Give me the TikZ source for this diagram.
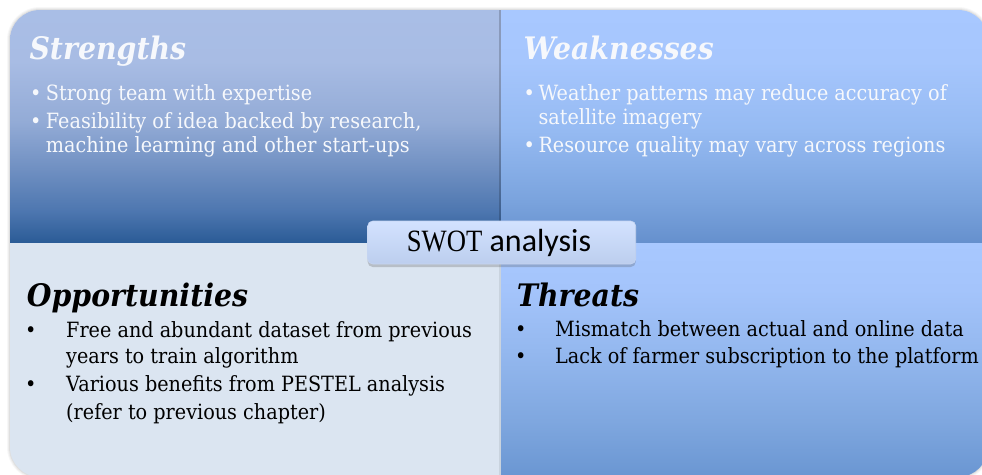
\documentclass[tikz,border=0pt]{standalone}
\usepackage{fontspec}
\setmainfont[FakeStretch=0.915]{DejaVu Serif}
\newfontfamily\labelsans{Carlito}
\newfontfamily\labelserif{Liberation Serif}
\usetikzlibrary{shadows}

% quadrant colours
\definecolor{sT}{HTML}{A9BEE6}
\definecolor{s4}{HTML}{A8BCE4}
\definecolor{s3}{HTML}{93ABD6}
\definecolor{s2}{HTML}{7090C2}
\definecolor{s1}{HTML}{4E77B0}
\definecolor{sB}{HTML}{2A5B96}
\definecolor{wT}{HTML}{A8C8FF}
\definecolor{w3}{HTML}{A6C6FD}
\definecolor{w2}{HTML}{95BAF2}
\definecolor{w1}{HTML}{7AA3DD}
\definecolor{wB}{HTML}{6590CD}
\definecolor{t3}{HTML}{A4C4FB}
\definecolor{t2}{HTML}{94B8EF}
\definecolor{t1}{HTML}{7FA7DF}
\definecolor{tB}{HTML}{6A96D2}
\definecolor{oppfill}{HTML}{DBE5F1}
\definecolor{tagtop}{HTML}{D3E2FF}
\definecolor{tagbot}{HTML}{BCCEEE}
\definecolor{softwhite}{HTML}{F6F8FC}

\pgfdeclareverticalshading{strshade}{100bp}{color(0bp)=(sB); color(25bp)=(sB);
  color(32bp)=(s1); color(41bp)=(s2); color(51bp)=(s3); color(64bp)=(s4);
  color(75bp)=(sT); color(100bp)=(sT)}
\pgfdeclareverticalshading{weakshade}{100bp}{color(0bp)=(wB); color(25bp)=(wB);
  color(34bp)=(w1); color(49bp)=(w2); color(64bp)=(w3);
  color(75bp)=(wT); color(100bp)=(wT)}
\pgfdeclareverticalshading{thrshade}{100bp}{color(0bp)=(tB); color(25bp)=(tB);
  color(37bp)=(t1); color(52bp)=(t2); color(65bp)=(t3);
  color(75bp)=(wT); color(100bp)=(wT)}

\tikzset{
  heading/.style={anchor=base west, inner sep=0pt,
    font=\fontsize{31}{36}\selectfont\bfseries\itshape},
  bodyline/.style={anchor=base west, inner sep=0pt,
    font=\fontsize{21}{25}\selectfont},
  bulletmark/.style={anchor=base west, inner sep=0pt,
    font=\fontsize{21}{25}\selectfont},
  onblue/.style={text=softwhite},
  onlight/.style={text=black},
  tagbox/.style={draw=tagbot!85!white, line width=0.6pt, rounded corners=5pt,
    top color=tagtop, bottom color=tagbot, minimum width=268pt, minimum height=43pt,
    inner sep=0pt,
    drop shadow={shadow xshift=0pt, shadow yshift=-3pt, opacity=0.25, fill=black!70}},
}

\begin{document}
\begin{tikzpicture}[x=1pt, y=-1pt]
\useasboundingbox (0,0) rectangle (982,474);

% soft outline round the whole block
\foreach \w/\o in {6/0.03, 4/0.04, 2/0.06}
  \draw[black, opacity=\o, line width=\w pt, rounded corners=30pt] (10,10) rectangle (988,477);

\begin{scope}
  \clip[rounded corners=30pt] (10,10) rectangle (988,477);
  % four quadrants
  \path[shading=strshade] (10,10) rectangle (501,243);
  \path[shading=weakshade] (501,10) rectangle (988,243);
  \fill[oppfill] (10,243) rectangle (501,477);
  \path[shading=thrshade] (501,243) rectangle (988,477);
  % shadow cast by the right-hand quadrants
  \fill[black, opacity=0.18] (498.5,10) rectangle (501,243);
  \fill[black, opacity=0.08] (498.5,243) rectangle (501,477);
\end{scope}

% Strengths
\node[heading, onblue] (sHead) at (29.3,59) {Strengths};
\node[bulletmark, onblue] (sB1) at (30,100) {•};
\node[bodyline, onblue] (sL1) at (45.7,100) {Strong team with expertise};
\node[bulletmark, onblue] (sB2) at (30,128.5) {•};
\node[bodyline, onblue] (sL2) at (45.7,128.5) {Feasibility of idea backed by research,};
\node[bodyline, onblue] (sL3) at (45.7,152.5) {machine learning and other start-ups};

% Weaknesses
\node[heading, onblue] (wHead) at (523.3,59) {Weaknesses};
\node[bulletmark, onblue] (wB1) at (523.5,100) {•};
\node[bodyline, onblue] (wL1) at (538.3,100) {Weather patterns may reduce accuracy of};
\node[bodyline, onblue] (wL2) at (538.3,124.5) {satellite imagery};
\node[bulletmark, onblue] (wB2) at (523.5,152.5) {•};
\node[bodyline, onblue] (wL3) at (538.3,152.5) {Resource quality may vary across regions};

% Opportunities
\node[heading, onlight] (oHead) at (26.7,306) {Opportunities};
\node[bulletmark, onlight] (oB1) at (25,337.3) {•};
\node[bodyline, onlight] (oL1) at (66,337.3) {Free and abundant dataset from previous};
\node[bodyline, onlight] (oL2) at (66,363.5) {years to train algorithm};
\node[bulletmark, onlight] (oB2) at (25,391.7) {•};
\node[bodyline, onlight] (oL3) at (66,391.7) {Various benefits from PESTEL analysis};
\node[bodyline, onlight] (oL4) at (66,419) {(refer to previous chapter)};

% Threats
\node[heading, onlight] (tHead) at (516.7,306) {Threats};
\node[bulletmark, onlight] (tB1) at (515,336.7) {•};
\node[bodyline, onlight] (tL1) at (555,336.7) {Mismatch between actual and online data};
\node[bulletmark, onlight] (tB2) at (515,363.3) {•};
\node[bodyline, onlight] (tL2) at (555,363.3) {Lack of farmer subscription to the platform};

% central tag
\node[tagbox] (tag) at (501.7,242.5) {};
\node[anchor=base west, inner sep=0pt, text=black] (tagText) at (406.7,251.7)
  {\labelserif\fontsize{31}{36}\selectfont\scalebox{0.86}[1]{SWOT}\labelsans\fontsize{32}{36}\selectfont\ analysis};
\end{tikzpicture}
\end{document}
